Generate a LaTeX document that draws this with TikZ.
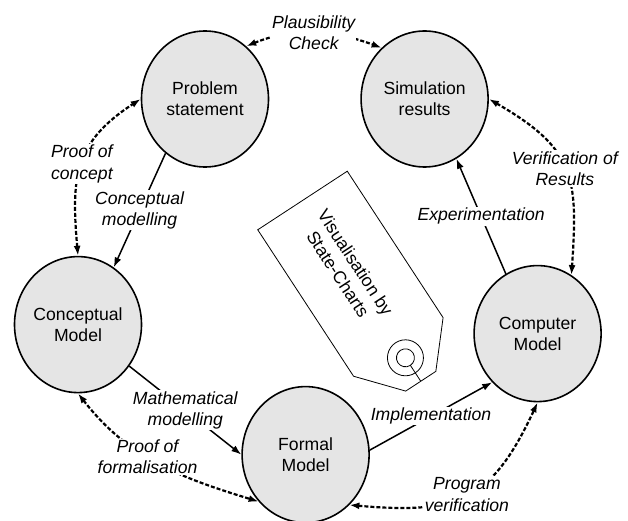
\documentclass[tikz,border=0pt]{standalone}
\usepackage{fontspec}
\setmainfont{Liberation Sans}
\usetikzlibrary{positioning}
\usetikzlibrary{arrows.meta}
\usetikzlibrary{shapes.geometric}

\tikzset{
  stage/.style={ellipse, draw, line width=1.6pt, fill=black!10, minimum width=127pt, minimum height=136pt, inner sep=0pt, align=center, font=\fontsize{17.6}{21}\selectfont},
  lbl/.style={fill=white, inner sep=1pt, align=center, font=\fontsize{17.6}{21.5}\selectfont\itshape},
  check/.style={<->, line width=2.2pt, dash pattern=on 4pt off 2pt},
}

\begin{document}
\begin{tikzpicture}[x=1pt, y=1pt, >={Latex[length=10pt,width=7pt]}, line width=1.5pt]
		\useasboundingbox (0,0) rectangle (628,520);

		% model stages
		\node[stage] (prob) at (205,421) {Problem\\statement};
		\node[stage] (sim) [right = 91pt of prob] {Simulation\\results};
		\node[stage] (concept) [below = 88pt of prob, xshift=-127pt] {Conceptual\\Model};
		\node[stage] (comp) [below = 97pt of sim, xshift=113pt] {Computer\\Model};
		\node[stage] (formal) [right = 99pt of concept, yshift=-130pt] {Formal\\Model};

		% modelling steps
		\path [->] (prob.234) edge node[lbl] {Conceptual\\modelling} (concept.58);
		\path [->] (concept.321) edge node[lbl] {Mathematical\\modelling} (formal.180);
		\path [->] (formal.4) edge node[lbl] {Implementation} (comp.227);
		\path [->] (comp.118) edge node[lbl] {Experimentation} (sim.298);

		% checks
		\draw [check] (prob.52) to[out=22, in=160] node[lbl] {Plausibility\\Check} (sim.130);
		\draw [check] (concept.north) to[out=95, in=213, looseness=1.2] node[lbl] {Proof of\\concept} (prob.west);
		\draw [check] (sim.east) to[out=-30, in=86, looseness=1.3] node[lbl] {Verification of\\Results} (comp.60);
		\draw [check] (formal.311) to[out=-5, in=245, looseness=1.3] node[lbl] {Program\\verification} (comp.south);
		\draw [check] (concept.south) to[out=-52, in=163] node[lbl, pos=0.44] {Proof of\\formalisation} (formal.225);

		% tag
		\begin{scope}[shift={(302.5,319.5)}, rotate=-56.8, line width=0.8pt]
			\draw (0,53.5) -- (175,53.5) -- (216,18) -- (216,-18) -- (175,-53.5) -- (0,-53.5) -- cycle;
			\draw (188,0) circle[radius=18] (188,0) circle[radius=9];
			\draw (197,0) -- (216,0);
			\node[rotate=-56.8, align=center, font=\fontsize{17.6}{21}\selectfont] (tagtext) at (81,0) {Visualisation by\\State-Charts};
		\end{scope}
	\end{tikzpicture}
\end{document}
